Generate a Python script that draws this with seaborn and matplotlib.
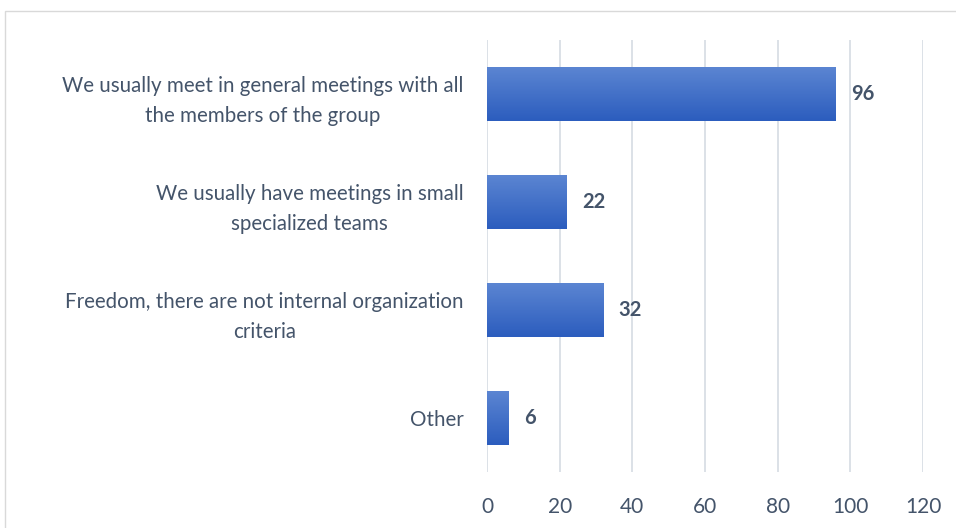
import numpy as np
import pandas as pd
import matplotlib.pyplot as plt
import seaborn as sns
from matplotlib.patches import Rectangle
from matplotlib.colors import LinearSegmentedColormap

categories = [
    "We usually meet in general meetings with all\nthe members of the group",
    "We usually have meetings in small\nspecialized teams",
    "Freedom, there are not internal organization\ncriteria",
    "Other",
]
values = [96, 22, 32, 6]
x_ticks = [0, 20, 40, 60, 80, 100, 120]

df = pd.DataFrame({"answer": categories, "count": values})

sns.set_theme(style="white")
plt.rcParams['font.family'] = ['Lato', 'DejaVu Sans']

fig = plt.figure(figsize=(9.56, 5.28), dpi=100)
ax = fig.add_axes([487 / 956, 1 - 472 / 528, 436 / 956, 432 / 528])

sns.barplot(data=df, x="count", y="answer", color="#4472C4", width=0.5,
            orient="h", ax=ax, zorder=3)

# vertical gradient fill on each bar
grad = LinearSegmentedColormap.from_list("bar", ["#5B85D2", "#2C5DBE"])
for p in ax.patches:
    x0, y0 = p.get_x(), p.get_y()
    w, h = p.get_width(), p.get_height()
    img = ax.imshow(np.linspace(0, 1, 64).reshape(-1, 1), cmap=grad, aspect="auto",
                    extent=(x0, x0 + w, y0 + h, y0), origin="upper", zorder=4)
    img.set_clip_path(p)
    p.set_edgecolor("none")

for i, v in enumerate(values):
    ax.text(v + 4.2, i, str(v), va="center", ha="left", fontsize=14.5,
            fontweight="bold", color="#44546A", zorder=5)

ax.set_xlim(0, 120)
ax.set_ylim(3.5, -0.5)
ax.set_xticks(x_ticks)
ax.set_xticklabels([str(t) for t in x_ticks])
ax.grid(axis="x", color="#D9DEE5", linewidth=1.3, zorder=0)
ax.grid(axis="y", visible=False)
for s in ax.spines.values():
    s.set_visible(False)
ax.set_xlabel("")
ax.set_ylabel("")
ax.tick_params(axis="x", labelsize=15, labelcolor="#44546A", length=0, pad=18)
ax.tick_params(axis="y", labelsize=14.8, labelcolor="#44546A", length=0, pad=17)
for lbl in ax.get_yticklabels():
    lbl.set_horizontalalignment("right")
    lbl.set_multialignment("center")
    lbl.set_linespacing(1.6)

fig.patches.append(Rectangle((5 / 956, -0.01), 1.0, 1 - 11 / 528 + 0.01,
                             transform=fig.transFigure, fill=False,
                             edgecolor="#D9D9D9", linewidth=1.0))

fig.savefig("out.png", dpi=100)
